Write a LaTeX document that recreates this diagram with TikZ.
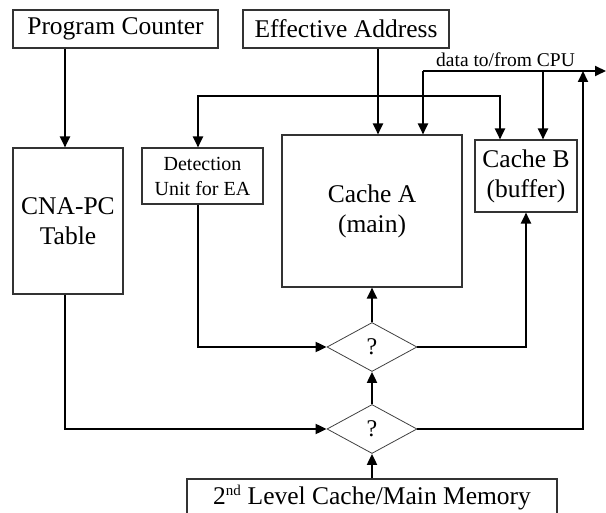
\documentclass[tikz,border=0pt]{standalone}
\usepackage{fontspec}
\setmainfont{Liberation Serif}
\usetikzlibrary{arrows.meta,shapes.geometric}

\begin{document}
\begin{tikzpicture}[x=1pt,y=-1pt,
  box/.style={draw=black!80, line width=1.1pt, rectangle, inner sep=0pt,
    align=center, font=\fontsize{25.5}{30}\selectfont},
  decide/.style={draw=black!75, line width=0.8pt, diamond, inner sep=0pt,
    minimum width=90pt, minimum height=49pt, font=\fontsize{24}{26}\selectfont},
  tip/.tip={Triangle[length=11pt,width=10pt]},
  wire/.style={line width=2pt, -tip},
  wire2/.style={line width=2pt, tip-tip}]

\useasboundingbox (0,0) rectangle (606,513);

% blocks
\node[box, minimum width=205pt, minimum height=38pt] (pc) at (115.5,29) {Program Counter};
\node[box, minimum width=206pt, minimum height=38pt] (ea) at (346,29) {Effective Address};
\node[box, minimum width=110pt, minimum height=146pt] (cna) at (68,221) {CNA-PC\\Table};
\node[box, minimum width=121pt, minimum height=56pt, font=\fontsize{20}{25}\selectfont]
  (det) at (202.5,176) {Detection\\Unit for EA};
\node[box, minimum width=180pt, minimum height=152pt] (ca) at (372,211) {Cache A\\(main)};
\node[box, minimum width=102pt, minimum height=72pt] (cb) at (526,176) {Cache B\\(buffer)};
\node[box, minimum width=370pt, minimum height=38pt] (mem) at (372,498)
  {2\textsuperscript{\fontsize{15}{15}\selectfont nd} Level Cache/Main Memory};

% decisions
\node[decide] (q1) at (372,347) {?};
\node[decide] (q2) at (372,429) {?};

% helper positions
\coordinate (cpu) at (606,71);
\coordinate (bus) at (0,96);
\coordinate (xl) at (65,0);
\coordinate (xd) at (198,0);
\coordinate (xe) at (378,0);
\coordinate (xa) at (423,0);
\coordinate (xc) at (500,0);
\coordinate (xb) at (543,0);
\coordinate (xr) at (583,0);

\node[anchor=base west, inner sep=0pt, font=\fontsize{19.5}{21}\selectfont]
  (lbl) at (436,67) {data to/from CPU};

% connectors
\draw[wire] (pc.south -| xl) -- (cna.north -| xl);
\draw[wire] (ea.south -| xe) -- (ca.north -| xe);
\draw[wire] (xa |- cpu) -- (cpu);
\draw[wire] (xa |- cpu) -- (ca.north -| xa);
\draw[wire] (xb |- cpu) -- (cb.north -| xb);
\draw[wire2] (det.north -| xd) -- (xd |- bus) -- (xc |- bus) -- (cb.north -| xc);
\draw[wire] (det.south -| xd) |- (q1.west);
\draw[wire] (q1.north) -- (ca.south);
\draw[wire] (q1.east) -| (cb.south);
\draw[wire] (cna.south -| xl) |- (q2.west);
\draw[wire] (q2.north) -- (q1.south);
\draw[wire] (mem.north) -- (q2.south);
\draw[wire] (q2.east) -| (xr |- cpu);

\end{tikzpicture}
\end{document}
